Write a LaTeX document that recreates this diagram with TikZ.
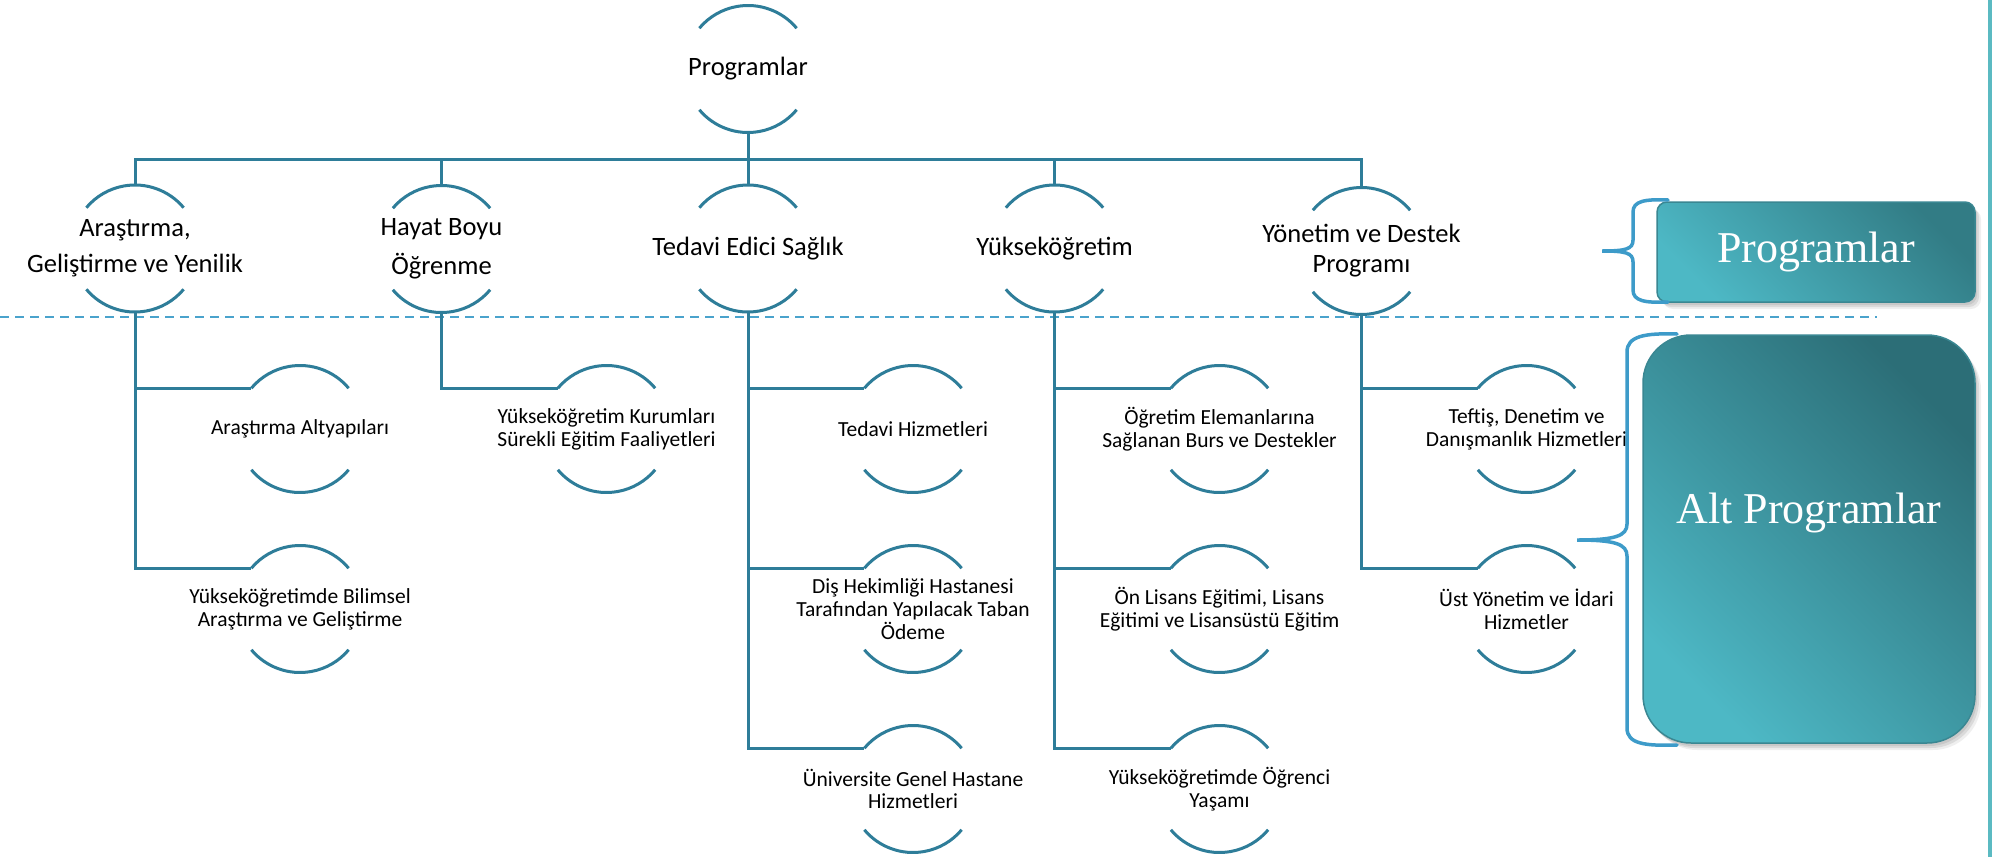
\documentclass[tikz,border=0pt]{standalone}
\usepackage{fontspec}
\setmainfont{Carlito}
\newfontfamily\boxfont{Liberation Serif}
\usetikzlibrary{shadows,calc}
\definecolor{lncol}{HTML}{2E7D99}
\definecolor{dashcol}{HTML}{4AA3CC}
\definecolor{bracecol}{HTML}{3D9BC9}
\definecolor{edgecol}{HTML}{5BBAC2}
\definecolor{tlight}{HTML}{4DB8C5}
\definecolor{tdark}{HTML}{2C6E77}
\definecolor{tdarkb}{HTML}{327C85}
\definecolor{tborder}{HTML}{3A8792}
\newcommand\arcR{63.5pt}
\newcommand\arcpair[1]{\draw[conn] ([shift={(40:\arcR)}]#1.center) arc[start angle=40,end angle=140,radius=\arcR] ([shift={(220:\arcR)}]#1.center) arc[start angle=220,end angle=320,radius=\arcR];}
\begin{document}
\begin{tikzpicture}[x=1pt,y=1pt,
  conn/.style={draw=lncol, line width=3pt, line join=miter},
  lvone/.style={font=\fontsize{26.5}{36}\selectfont, align=center, inner sep=0pt},
  lvtwo/.style={font=\fontsize{21.5}{22.8}\selectfont, align=center, inner sep=0pt},
  boxshape/.style={draw=tborder, line width=1.5pt, top color=#1, bottom color=tlight, shading angle=-45,
    drop shadow={opacity=0.12, shadow xshift=6pt, shadow yshift=-7pt},
    drop shadow={opacity=0.18, shadow xshift=4pt, shadow yshift=-5pt},
    drop shadow={opacity=0.2, shadow xshift=2pt, shadow yshift=-3pt}},
  boxtext/.style={text=white, font=\boxfont\fontsize{44}{50}\selectfont, inner sep=0pt},
  bracestyle/.style={draw=bracecol, line width=3.5pt, line cap=round},
]
\useasboundingbox[fill=white] (0,0) rectangle (1995,-857);

% separator
\coordinate (sepL) at (0,-316.5);
\coordinate (sepR) at (1877,-316.5);
\draw[dashcol, line width=2pt, dash pattern=on 9pt off 6pt] (sepL) -- (sepR);

% root and level one
\node[lvone] (root) at (748,-69) {Programlar};
\node[lvone, font=\fontsize{26.5}{36.3}\selectfont] (a1) at (135,-248.5) {Araştırma,\\Geliştirme ve Yenilik};
\node[lvone, font=\fontsize{26.5}{39}\selectfont] (a2) at (441.5,-249) {Hayat Boyu\\Öğrenme};
\node[lvone] (a3) at (748,-248.5) {Tedavi Edici Sağlık};
\node[lvone] (a4) at (1054.5,-248.5) {Yükseköğretim};
\node[lvone, font=\fontsize{26.5}{30}\selectfont] (a5) at (1361.5,-251) {Yönetim ve Destek\\Programı};

% level two
\node[lvtwo] (b11) at (300,-429) {Araştırma Altyapıları};
\node[lvtwo] (b12) at (300,-609) {Yükseköğretimde Bilimsel\\Araştırma ve Geliştirme};
\node[lvtwo] (b21) at (606.5,-429) {Yükseköğretim Kurumları\\Sürekli Eğitim Faaliyetleri};
\node[lvtwo] (b31) at (913,-429) {Tedavi Hizmetleri};
\node[lvtwo] (b32) at (913,-609) {Diş Hekimliği Hastanesi\\Tarafından Yapılacak Taban\\Ödeme};
\node[lvtwo] (b33) at (913,-789) {Üniversite Genel Hastane\\Hizmetleri};
\node[lvtwo] (b41) at (1219.5,-429) {Öğretim Elemanlarına\\Sağlanan Burs ve Destekler};
\node[lvtwo] (b42) at (1219.5,-609) {Ön Lisans Eğitimi, Lisans\\Eğitimi ve Lisansüstü Eğitim};
\node[lvtwo] (b43) at (1219.5,-789) {Yükseköğretimde Öğrenci\\Yaşamı};
\node[lvtwo] (b51) at (1526.5,-429) {Teftiş, Denetim ve\\Danışmanlık Hizmetleri};
\node[lvtwo] (b52) at (1526.5,-609) {Üst Yönetim ve İdari\\Hizmetler};

% arcs
\foreach \n in {root,a1,a2,a3,a4,a5,b11,b12,b21,b31,b32,b33,b41,b42,b43,b51,b52}{\arcpair{\n}}

% bus
\coordinate (bus) at ($(root.center)+(0,-90)$);
\draw[conn] ([yshift=-\arcR]root.center) -- (bus);
\foreach \n in {a1,a2,a3,a4,a5}{\draw[conn] (bus) -| ([yshift=\arcR]\n.center);}

% branches
\foreach \p/\c in {a1/b11,a1/b12,a2/b21,a3/b31,a3/b32,a3/b33,a4/b41,a4/b42,a4/b43,a5/b51,a5/b52}{
  \draw[conn] ([yshift=-\arcR]\p.center) |- ([shift={(140:\arcR)}]\c.center);
}

% right boxes
\node[boxshape=tdarkb, rounded corners=10pt, minimum width=318pt, minimum height=100pt, inner sep=0pt] (pbox) at (1816,-252) {};
\node[boxtext] (ptext) at (pbox.center) {Programlar};
\node[boxshape=tdark, rounded corners=48pt, minimum width=332pt, minimum height=408pt, inner sep=0pt] (abox) at (1809,-539) {};
\node[boxtext] (atext) at ($(abox.center)+(0,26)$) {Alt Programlar};

% braces
\draw[bracestyle] (1668,-200) .. controls (1645,-199) and (1633,-201) .. (1633,-212) -- (1633,-240) .. controls (1633,-249) and (1626,-251) .. (1602,-251) .. controls (1626,-251) and (1633,-253) .. (1633,-262) -- (1633,-290) .. controls (1633,-301) and (1645,-303) .. (1668,-302);
\draw[bracestyle] (1677,-334) .. controls (1645,-333) and (1627,-336) .. (1627,-352) -- (1627,-524) .. controls (1627,-536) and (1615,-540) .. (1577,-540) .. controls (1615,-540) and (1627,-544) .. (1627,-556) -- (1627,-728) .. controls (1627,-744) and (1645,-746) .. (1677,-745);

% right edge
\coordinate (edgeT) at (1990,0);
\coordinate (edgeB) at (1990,-857);
\draw[edgecol, line width=4.5pt] (edgeT) -- (edgeB);
\end{tikzpicture}
\end{document}
